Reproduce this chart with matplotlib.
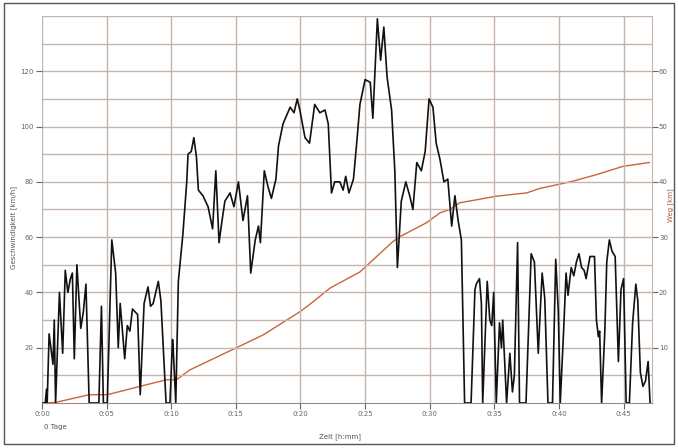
import matplotlib
matplotlib.use("Agg")
import matplotlib.pyplot as plt
from matplotlib.patches import Rectangle

# Speed trace: time [min], speed [km/h]
speed_t = [0.0, 0.25, 0.35, 0.4, 0.55, 0.85, 0.95, 1.05, 1.35, 1.6, 1.8, 2.0, 2.2, 2.35, 2.5, 2.7, 3.0, 3.2, 3.4, 3.65,
           4.4, 4.6, 4.75, 5.05, 5.4, 5.7, 5.9, 6.05, 6.4, 6.6, 6.8, 7.0, 7.4, 7.6, 7.9, 8.2, 8.4, 8.6, 9.0, 9.2, 9.6,
           9.9, 10.1, 10.15, 10.35, 10.55, 10.9, 11.2, 11.3, 11.55, 11.75, 11.95, 12.1, 12.45, 12.85, 13.2, 13.45, 13.7,
           13.9, 14.15, 14.55, 14.85, 15.2, 15.55, 15.9, 16.15, 16.5, 16.75, 16.9, 17.2, 17.5, 17.75, 18.1, 18.3, 18.65,
           19.2, 19.5, 19.75, 19.95, 20.35, 20.7, 21.1, 21.5, 21.9, 22.15, 22.4, 22.65, 23.05, 23.3, 23.5, 23.75, 24.1,
           24.35, 24.6, 25.0, 25.4, 25.6, 25.95, 26.2, 26.45, 26.7, 27.05, 27.3, 27.5, 27.8, 28.15, 28.45, 28.7, 29.0,
           29.35, 29.65, 29.95, 30.25, 30.5, 30.8, 31.1, 31.4, 31.7, 31.95, 32.2, 32.45, 32.7, 33.2, 33.5, 33.6, 33.85,
           34.0, 34.1, 34.45, 34.65, 34.8, 34.95, 35.15, 35.4, 35.55, 35.65, 35.95, 36.2, 36.4, 36.55, 36.8, 36.95,
           37.45, 37.85, 38.1, 38.4, 38.55, 38.7, 38.9, 39.15, 39.5, 39.75, 39.95, 40.1, 40.35, 40.55, 40.7, 40.95,
           41.15, 41.35, 41.55, 41.75, 41.95, 42.1, 42.4, 42.75, 42.9, 43.05, 43.15, 43.3, 43.55, 43.7, 43.9, 44.1,
           44.35, 44.6, 44.8, 45.0, 45.2, 45.45, 45.7, 45.95, 46.1, 46.3, 46.5, 46.7, 46.9, 47.05]
speed_v = [0, 0, 5, 0, 25, 14, 30, 0, 40, 18, 48, 40, 45, 47, 16, 50, 27, 33, 43, 0,
           0, 35, 0, 0, 59, 47, 20, 36, 16, 28, 26, 34, 32, 3, 36, 42, 35, 36, 44, 37, 0,
           0, 23, 20, 0, 44, 61, 80, 90, 91, 96, 89, 77, 75, 71, 63, 84, 58,
           65, 73, 76, 71, 80, 66, 75, 47, 59, 64, 58, 84, 78, 74, 81, 93, 101,
           107, 105, 110, 106, 96, 94, 108, 105, 106, 101, 76, 80, 80, 77, 82, 76, 81,
           94, 108, 117, 116, 103, 139, 124, 136, 118, 106, 84, 49, 73, 80, 75, 70, 87,
           84, 91, 110, 107, 94, 88, 80, 81, 64, 75, 66, 59, 0, 0, 41, 43, 45,
           36, 0, 44, 30, 28, 40, 0, 29, 20, 30, 0, 18, 4, 10, 58, 0,
           0, 54, 51, 18, 33, 47, 38, 0, 0, 52, 33, 0, 25, 47, 39, 49,
           46, 51, 54, 49, 48, 45, 53, 53, 30, 24, 26, 0, 26, 51, 59, 55,
           53, 15, 41, 45, 0, 0, 29, 43, 37, 11, 6, 8, 15, 0]

# Distance: time [min], distance [km]
dist_t = [0.0, 1.05, 3.65, 5.05, 9.6, 10.4, 11.45, 15.05, 17.1, 19.95, 20.7, 22.3, 24.6, 27.15, 27.7, 29.75,
          30.8, 31.55, 32.3, 35.15, 37.5, 38.5, 39.3, 41.05, 42.9, 44.95, 47.0]
dist_v = [0.0, 0.1, 1.5, 1.5, 4.2, 4.2, 6.0, 10.0, 12.3, 16.5, 17.8, 20.8, 23.7, 29.2, 30.1, 32.6,
          34.4, 35.0, 36.2, 37.4, 38.0, 38.8, 39.2, 40.1, 41.3, 42.8, 43.5]

x_ticks = [0, 5, 10, 15, 20, 25, 30, 35, 40, 45]
x_labels = ["0:00", "0:05", "0:10", "0:15", "0:20", "0:25", "0:30", "0:35", "0:40", "0:45"]
left_ticks = [20, 40, 60, 80, 100, 120]
right_ticks = [10, 20, 30, 40, 50, 60]

grid_c = "#c4b4ac"
tick_c = "#666666"
fs = 5

fig = plt.figure(figsize=(6.78, 4.48), dpi=100)
ax = fig.add_axes([42/678, 1-403/448, (652-42)/678, (403-16)/448])
ax2 = ax.twinx()

ax.set_xlim(0, 47.2)
ax.set_ylim(0, 140)
ax2.set_ylim(0, 70)

# grid
for y in range(10, 141, 10):
    ax.axhline(y, color=grid_c, lw=1.0, zorder=0)
for xt in x_ticks:
    ax.axvline(xt, color=grid_c, lw=1.0, zorder=0)

ax2.plot(dist_t, dist_v, color="#c8643c", lw=1.0, zorder=3)
ax.plot(speed_t, speed_v, color="#111111", lw=1.2, zorder=4)
ax.set_zorder(ax2.get_zorder() + 1)
ax.patch.set_visible(False)

for a in (ax, ax2):
    for s in a.spines.values():
        s.set_visible(False)
ax.spines["bottom"].set_visible(True)
ax.spines["bottom"].set_color("#9a8a84")
ax2.spines["right"].set_visible(True)
ax2.spines["right"].set_color(grid_c)

ax.set_xticks(x_ticks)
ax.set_xticklabels(x_labels)
ax.set_yticks(left_ticks)
ax2.set_yticks(right_ticks)
ax.tick_params(axis="both", labelsize=fs, colors=tick_c, length=4, width=0.8, pad=2)
ax2.tick_params(axis="y", labelsize=fs, colors=tick_c, length=4, width=0.8, pad=1)

fig.text(14/678, 1-227/448, "Geschwindigkeit [km/h]", rotation=90, ha="center", va="center",
         fontsize=fs, color="#555555")
fig.text(671/678, 1-205/448, "Weg [km]", rotation=90, ha="center", va="center",
         fontsize=fs, color="#b05a3a")
fig.text(340/678, 1-437/448, "Zeit [h:mm]", ha="center", va="center", fontsize=fs, color="#555555")
fig.text(44/678, 1-427/448, "0 Tage", ha="left", va="center", fontsize=fs, color="#555555")

fig.patches.append(Rectangle((4/678, 1-444/448), 670/678, 441/448, transform=fig.transFigure,
                             fill=False, edgecolor="#555555", lw=1.0))

fig.savefig("out.png", dpi=100)
